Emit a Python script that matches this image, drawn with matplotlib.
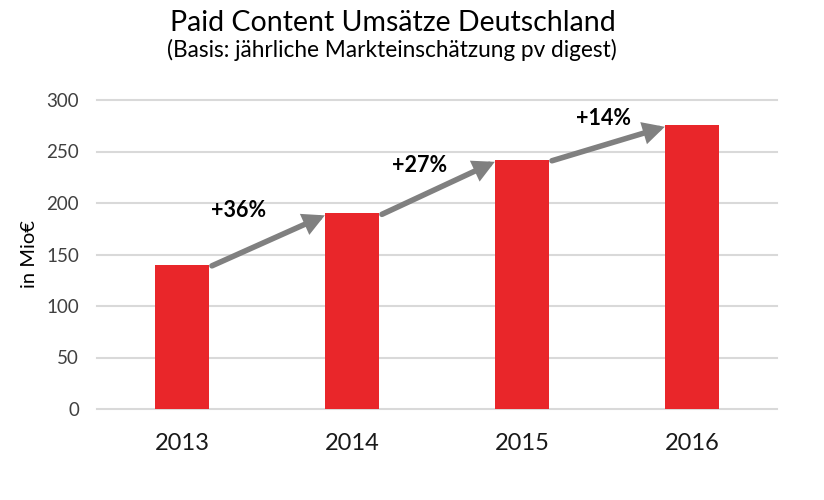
import matplotlib
matplotlib.use("Agg")
import matplotlib.pyplot as plt

plt.rcParams['font.family'] = ['Lato', 'DejaVu Sans']

# ---- data ----
years = ['2013', '2014', '2015', '2016']
revenue = [140, 190, 242, 276]
growth_labels = ['+36%', '+27%', '+14%']
y_ticks = [0, 50, 100, 150, 200, 250, 300]

title = 'Paid Content Umsätze Deutschland'
subtitle = '(Basis: jährliche Markteinschätzung pv digest)'
y_label = 'in Mio€'

# ---- style ----
bar_color = '#E9262A'
arrow_color = '#808080'
grid_color = '#D9D9D9'
bar_w = 0.32

W, H = 824, 500
fig = plt.figure(figsize=(W / 100, H / 100), dpi=100)
ax = fig.add_axes([97 / W, 1 - 409 / H, 680 / W, 309 / H])

x = list(range(len(years)))
ax.bar(x, revenue, width=bar_w, color=bar_color, zorder=3)

ax.set_xlim(-0.5, len(years) - 0.5)
ax.set_ylim(0, 300)
ax.set_yticks(y_ticks)
ax.set_yticklabels([str(t) for t in y_ticks])
ax.set_xticks(x)
ax.set_xticklabels(years)

for s in ax.spines.values():
    s.set_visible(False)
ax.yaxis.grid(True, color=grid_color, linewidth=1.5, zorder=0)
ax.set_axisbelow(True)
for gl in ax.get_ygridlines():
    gl.set_clip_on(False)
ax.tick_params(axis='both', length=0)
ax.tick_params(axis='y', pad=13, labelsize=13.5, labelcolor='#404040')
ax.tick_params(axis='x', pad=17, labelsize=17, labelcolor='#1a1a1a')

# growth arrows between bars
label_dx = [0.335, 0.40, 0.482]
label_dy = [186.4 - 140, 230.1 - 190, 275.7 - 242]
for i in range(len(years) - 1):
    x0 = x[i] + bar_w / 2 + 0.016
    y0 = revenue[i] - 1
    x1 = x[i + 1] - bar_w / 2
    y1 = revenue[i + 1] - 2
    ax.annotate('', xy=(x1, y1), xytext=(x0, y0),
                arrowprops=dict(arrowstyle='-|>,head_length=0.48,head_width=0.25',
                                lw=4, color=arrow_color, mutation_scale=20,
                                shrinkA=0, shrinkB=0, joinstyle='miter'),
                zorder=4)
    ax.text(x[i] + label_dx[i], revenue[i] + label_dy[i], growth_labels[i],
            ha='center', va='baseline', fontsize=15.5, fontweight='bold',
            color='black', zorder=5)

fig.text(393 / W, 1 - 31 / H, title, ha='center', va='baseline',
         fontsize=20.5, color='black')
fig.text(391.5 / W, 1 - 57 / H, subtitle, ha='center', va='baseline',
         fontsize=16.3, color='black')
fig.text(30 / W, 1 - 254 / H, y_label, rotation=90, ha='center', va='center',
         fontsize=14.5, color='black')

fig.savefig('out.png', dpi=100)
